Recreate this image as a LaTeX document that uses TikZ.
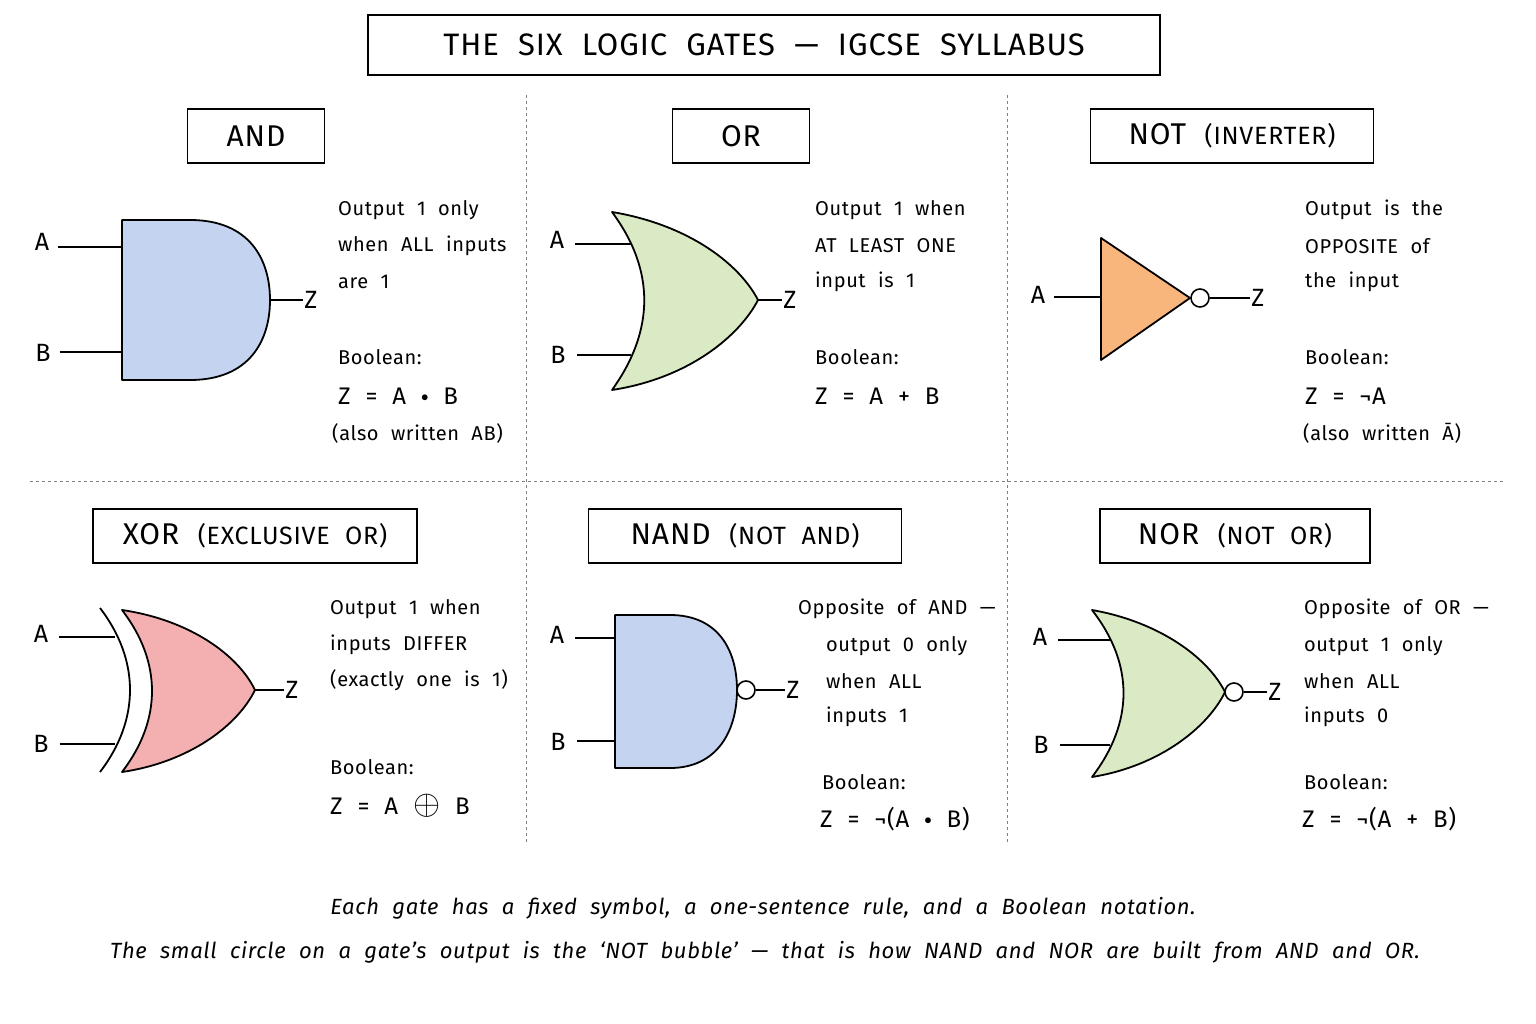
\documentclass[tikz,border=0pt]{standalone}
\usepackage{fontspec}
\setmainfont{Fira Sans}[WordSpace=2.1, LetterSpace=3]
\usetikzlibrary{calc}
\definecolor{andfill}{RGB}{196,212,240}
\definecolor{orfill}{RGB}{218,234,196}
\definecolor{notfill}{RGB}{248,182,124}
\definecolor{xorfill}{RGB}{244,176,176}
\tikzstyle{gate}=[draw, line width=1.8pt, line join=round]
\tikzstyle{wire}=[draw, line width=1.6pt]
\tikzstyle{bubble}=[draw, line width=1.6pt, fill=white]
\tikzstyle{pin}=[font=\fontsize{25}{28}\selectfont, inner sep=1pt]
\tikzstyle{txt}=[anchor=west, font=\fontsize{20}{24}\selectfont, inner sep=0pt]
\tikzstyle{eqn}=[anchor=west, font=\fontsize{24}{28}\selectfont, inner sep=0pt]
\tikzstyle{head}=[draw, line width=1.4pt, font=\fontsize{30}{34}\selectfont, minimum height=54pt, inner xsep=14pt]
\tikzstyle{divider}=[draw, dashed, line width=1pt, gray]
\newcommand{\gdot}{\raisebox{0.25ex}{\scalebox{0.6}{$\bullet$}}}
\newcommand{\gxor}{\scalebox{1.4}{$\oplus$}}

\begin{document}
\begin{tikzpicture}[x=1pt, y=-1pt]
	\useasboundingbox (0,0) rectangle (1536,1024);
	\node[draw, line width=1.6pt, minimum width=792pt, minimum height=60pt, font=\fontsize{31}{34}\selectfont] (title) at (764,45) {THE SIX LOGIC GATES --- IGCSE SYLLABUS};

	% dividers
	\draw[divider] (526,95) -- (526,845);
	\draw[divider] (1007,95) -- (1007,845);
	\draw[divider] (30,481) -- (1505,481);

	% headings
	\node[head, minimum width=137pt] (hand) at (256,136) {AND};
	\node[head, minimum width=137pt] (hor) at (741,136) {OR};
	\node[head, minimum width=283pt] (hnot) at (1232,136) {NOT {\fontsize{25}{28}\selectfont(INVERTER)}};
	\node[head, minimum width=324pt] (hxor) at (255,536) {XOR {\fontsize{25}{28}\selectfont(EXCLUSIVE OR)}};
	\node[head, minimum width=313pt] (hnand) at (745,536) {NAND {\fontsize{25}{28}\selectfont(NOT AND)}};
	\node[head, minimum width=270pt] (hnor) at (1235,536) {NOR {\fontsize{25}{28}\selectfont(NOT OR)}};

	% AND
	\path[gate, fill=andfill] (122,220) -- (190,220) .. controls (250,220) and (270,260) .. (270,300) .. controls (270,340) and (250,380) .. (190,380) -- (122,380) -- cycle;
	\node[pin] (andA) at (42,242) {A};
	\node[pin] (andB) at (43,353) {B};
	\node[pin] (andZ) at (311,300) {Z};
	\coordinate (andA0) at (122,247);
	\coordinate (andB0) at (122,352);
	\coordinate (andZ0) at (270,300);
	\draw[wire] (andA.east |- andA0) ++(8,0) -- (andA0);
	\draw[wire] (andB.east |- andB0) ++(8,0) -- (andB0);
	\draw[wire] (andZ0) -- (andZ.west);

	% OR
	\path[gate, fill=orfill] (612,212) .. controls (690,225) and (740,265) .. (758,300) .. controls (740,335) and (690,378) .. (612,390) .. controls (655,330) and (655,270) .. (612,212) -- cycle;
	\node[pin] (orA) at (557,240) {A};
	\node[pin] (orB) at (558,355) {B};
	\node[pin] (orZ) at (790,300) {Z};
	\coordinate (orA0) at (631,244);
	\coordinate (orB0) at (631,355);
	\coordinate (orZ0) at (758,300);
	\draw[wire] (orA.east |- orA0) ++(10,0) -- (orA0);
	\draw[wire] (orB.east |- orB0) ++(10,0) -- (orB0);
	\draw[wire] (orZ0) -- (orZ.west);

	% NOT
	\path[gate, fill=notfill] (1101,238) -- (1190,298) -- (1101,360) -- cycle;
	\node[circle, bubble, minimum size=18pt, inner sep=0pt] (notO) at (1200,298) {};
	\node[pin] (notA) at (1038,295) {A};
	\node[pin] (notZ) at (1258,298) {Z};
	\coordinate (notA0) at (1101,297);
	\draw[wire] (notA.east |- notA0) ++(8,0) -- (notA0);
	\draw[wire] (notO) -- (notZ.west);

	% XOR
	\path[gate, fill=xorfill] (122,610) .. controls (190,620) and (238,655) .. (255,690) .. controls (238,725) and (190,762) .. (122,772) .. controls (162,720) and (162,662) .. (122,610) -- cycle;
	\draw[gate] (100,608) .. controls (140,660) and (140,720) .. (100,772);
	\node[pin] (xorA) at (41,634) {A};
	\node[pin] (xorB) at (41,744) {B};
	\node[pin] (xorZ) at (292,690) {Z};
	\coordinate (xorA0) at (115,637);
	\coordinate (xorB0) at (115,744);
	\coordinate (xorZ0) at (255,690);
	\draw[wire] (xorA.east |- xorA0) ++(10,0) -- (xorA0);
	\draw[wire] (xorB.east |- xorB0) ++(10,0) -- (xorB0);
	\draw[wire] (xorZ0) -- (xorZ.west);

	% NAND
	\path[gate, fill=andfill] (615,615) -- (670,615) .. controls (718,615) and (737,650) .. (737,690) .. controls (737,730) and (718,768) .. (670,768) -- (615,768) -- cycle;
	\node[circle, bubble, minimum size=18pt, inner sep=0pt] (nandO) at (746,690) {};
	\node[pin] (nandA) at (557,635) {A};
	\node[pin] (nandB) at (558,742) {B};
	\node[pin] (nandZ) at (793,690) {Z};
	\coordinate (nandA0) at (615,638);
	\coordinate (nandB0) at (615,741);
	\draw[wire] (nandA.east |- nandA0) ++(10,0) -- (nandA0);
	\draw[wire] (nandB.east |- nandB0) ++(10,0) -- (nandB0);
	\draw[wire] (nandO) -- (nandZ.west);

	% NOR
	\path[gate, fill=orfill] (1092,610) .. controls (1160,622) and (1208,658) .. (1225,692) .. controls (1208,727) and (1160,766) .. (1092,777) .. controls (1134,722) and (1134,664) .. (1092,610) -- cycle;
	\node[circle, bubble, minimum size=18pt, inner sep=0pt] (norO) at (1234,692) {};
	\node[pin] (norA) at (1040,637) {A};
	\node[pin] (norB) at (1041,745) {B};
	\node[pin] (norZ) at (1275,692) {Z};
	\coordinate (norA0) at (1110,640);
	\coordinate (norB0) at (1110,745);
	\draw[wire] (norA.east |- norA0) ++(10,0) -- (norA0);
	\draw[wire] (norB.east |- norB0) ++(10,0) -- (norB0);
	\draw[wire] (norO) -- (norZ.west);

	% descriptions
	\node[txt] at (338,210) {Output 1 only};
	\node[txt] at (338,246) {when ALL inputs};
	\node[txt] at (338,282) {are 1};
	\node[txt] at (338,357) {Boolean:};
	\node[eqn] at (338,396) {Z = A \gdot\ B};
	\node[txt] at (332,433) {(also written AB)};

	\node[txt] at (815,210) {Output 1 when};
	\node[txt] at (815,246) {AT LEAST ONE};
	\node[txt] at (815,282) {input is 1};
	\node[txt] at (815,357) {Boolean:};
	\node[eqn] at (815,396) {Z = A + B};

	\node[txt] at (1305,210) {Output is the};
	\node[txt] at (1305,246) {OPPOSITE of};
	\node[txt] at (1305,282) {the input};
	\node[txt] at (1305,357) {Boolean:};
	\node[eqn] at (1305,396) {Z = ¬A};
	\node[txt] at (1303,433) {(also written \=A)};

	\node[txt] at (330,609) {Output 1 when};
	\node[txt] at (330,645) {inputs DIFFER};
	\node[txt] at (330,680) {(exactly one is 1)};
	\node[txt] at (330,767) {Boolean:};
	\node[eqn] at (330,806) {Z = A \gxor\ B};

	\node[txt] at (798,609) {Opposite of AND ---};
	\node[txt] at (826,646) {output 0 only};
	\node[txt] at (826,681) {when ALL};
	\node[txt] at (826,717) {inputs 1};
	\node[txt] at (822,782) {Boolean:};
	\node[eqn] at (820,819) {Z = ¬(A \gdot\ B)};

	\node[txt] at (1304,609) {Opposite of OR ---};
	\node[txt] at (1304,646) {output 1 only};
	\node[txt] at (1304,681) {when ALL};
	\node[txt] at (1304,717) {inputs 0};
	\node[txt] at (1304,782) {Boolean:};
	\node[eqn] at (1302,819) {Z = ¬(A + B)};

	% footer
	\node[font=\fontsize{22}{26}\itshape\selectfont] (foot1) at (763,908) {Each gate has a fixed symbol, a one-sentence rule, and a Boolean notation.};
	\node[font=\fontsize{22}{26}\itshape\selectfont] (foot2) at (765,952) {The small circle on a gate’s output is the ‘NOT bubble’ --- that is how NAND and NOR are built from AND and OR.};
\end{tikzpicture}
\end{document}
